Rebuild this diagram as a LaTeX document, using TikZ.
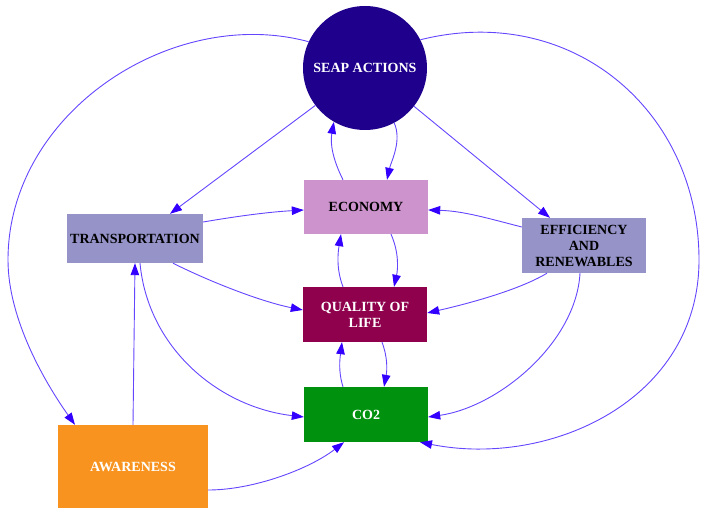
\documentclass[tikz,border=0pt]{standalone}
\usepackage{fontspec}
\setmainfont{Liberation Serif}
\usetikzlibrary{arrows.meta}

\definecolor{seapc}{RGB}{30,0,140}
\definecolor{econc}{RGB}{204,147,204}
\definecolor{qolc}{RGB}{143,0,77}
\definecolor{co2c}{RGB}{0,146,15}
\definecolor{sectorc}{RGB}{149,147,200}
\definecolor{awarec}{RGB}{247,147,30}
\definecolor{edgec}{RGB}{100,70,255}
\definecolor{headc}{RGB}{51,0,255}

\tikzset{
  lbl/.style={font=\fontsize{14}{16}\selectfont\bfseries, align=center, inner sep=0pt},
  boxnode/.style={lbl, rectangle, minimum width=124pt, minimum height=55pt},
  link/.style={draw=edgec, line width=0.9pt,
    -{Triangle[length=12pt,width=8.5pt,color=headc]}},
}

\begin{document}
\begin{tikzpicture}[x=1pt,y=-1pt]
\useasboundingbox (0,0) rectangle (701,508);

% factors
\node[lbl, circle, fill=seapc, text=white, minimum size=124pt] (seap) at (365,68) {SEAP ACTIONS};
\node[boxnode, fill=econc, text=black, minimum height=54pt] (econ) at (366,207) {ECONOMY};
\node[boxnode, fill=qolc, text=white] (qol) at (365,314.5) {QUALITY OF\\LIFE};
\node[boxnode, fill=co2c, text=white] (co2) at (366,414.5) {CO2};
\node[boxnode, fill=sectorc, text=black, minimum width=136pt, minimum height=49pt] (trans) at (135,238.5) {TRANSPORTATION};
\node[boxnode, fill=sectorc, text=black] (eff) at (584,245.5) {EFFICIENCY\\AND\\RENEWABLES};
\node[boxnode, fill=awarec, text=white, minimum width=150pt, minimum height=84pt] (aware) at (133,467) {AWARENESS};

% influences from the action plan
\draw[link] (seap.217) -- ([xshift=35pt]trans.north);
\draw[link] (seap.-38) -- ([xshift=-34pt]eff.north);
\draw[link] (seap.-62) .. controls +(8,18) and +(4,-18) .. ([xshift=21pt]econ.north);
\draw[link] ([xshift=-23pt]econ.north) .. controls +(-10,-20) and +(-4,22) .. (seap.-120);
\draw[link] (seap.155) .. controls (173,5) and (8,112) .. (8,260)
  .. controls (8,320) and (46,384) .. ([xshift=-58pt]aware.north);
\draw[link] (seap.27) .. controls (571,2) and (699,110) .. (699,260)
  .. controls (699,400) and (550,468) .. ([xshift=54pt]co2.south);

% sector links
\draw[link] ([yshift=16.5pt]trans.east) .. controls +(35,-6) and +(-35,2) .. ([yshift=-3pt]econ.west);
\draw[link] ([yshift=18.5pt]eff.west) .. controls +(-35,-9) and +(35,1) .. ([yshift=-3pt]econ.east);
\draw[link] ([xshift=38pt]trans.south) .. controls +(40,20) and +(-40,-8) .. ([yshift=4.5pt]qol.west);
\draw[link] ([xshift=-37pt]eff.south) .. controls +(-30,18) and +(35,-8) .. ([yshift=1.5pt]qol.east);
\draw[link] ([xshift=5pt]trans.south) .. controls +(8,85) and +(-85,-10) .. ([yshift=-2.5pt]co2.west);
\draw[link] ([xshift=-4pt]eff.south) .. controls +(-4,70) and +(70,-10) .. ([yshift=-2.5pt]co2.east);

% central chain
\draw[link] ([xshift=25pt]econ.south) .. controls +(8,18) and +(4,-18) .. ([xshift=29pt]qol.north);
\draw[link] ([xshift=-22pt]qol.north) .. controls +(-7,-18) and +(-3,18) .. ([xshift=-25pt]econ.south);
\draw[link] ([xshift=17pt]qol.south) .. controls +(6,16) and +(3,-16) .. ([xshift=18pt]co2.north);
\draw[link] ([xshift=-23pt]co2.north) .. controls +(-5,-16) and +(-2,16) .. ([xshift=-23pt]qol.south);

% awareness
\draw[link] (aware.north) -- (trans.south);
\draw[link] ([yshift=-23pt]aware.east) .. controls +(45,0) and +(-35,27) .. ([xshift=-22pt]co2.south);
\end{tikzpicture}
\end{document}
